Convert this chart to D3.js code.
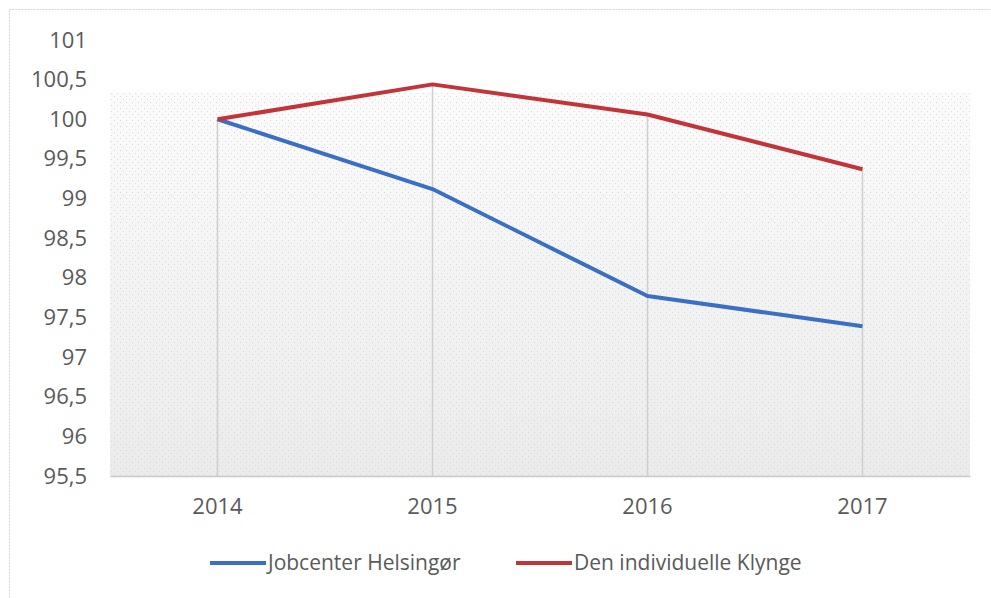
<!DOCTYPE html>
<html><head><meta charset="utf-8">
<script src="https://cdn.jsdelivr.net/npm/d3@7"></script>
<style>body{margin:0;background:#fff}svg{display:block}</style>
</head><body>
<svg id="c" width="991" height="598"></svg>
<script>
const years = ["2014","2015","2016","2017"];
const jobcenter = [100, 99.12, 97.77, 97.39];
const klynge = [100, 100.44, 100.06, 99.37];
const yTicks = [95.5, 96, 96.5, 97, 97.5, 98, 98.5, 99, 99.5, 100, 100.5, 101];
const seriesNames = ["Jobcenter Helsingør", "Den individuelle Klynge"];
const colors = ["#3a6fc4", "#c0343a"];

const svg = d3.select("#c");
const defs = svg.append("defs");
const grad = defs.append("linearGradient").attr("id","bg").attr("x1",0).attr("y1",0).attr("x2",0).attr("y2",1);
grad.append("stop").attr("offset","0%").attr("stop-color","#fbfbfb");
grad.append("stop").attr("offset","100%").attr("stop-color","#ebebeb");
const pat = defs.append("pattern").attr("id","dots").attr("width",6).attr("height",6).attr("patternUnits","userSpaceOnUse");
pat.append("rect").attr("x",0).attr("y",0).attr("width",1).attr("height",1).attr("fill","#d6d6d6");
pat.append("rect").attr("x",3).attr("y",3).attr("width",1).attr("height",1).attr("fill","#dcdcdc");

const font = "'Open Sans', sans-serif";
const txt = "#5a5a5a";

// outer border
svg.append("rect").attr("x",9.5).attr("y",9.5).attr("width",990).attr("height",600)
  .attr("fill","none").attr("stroke","#d4d4d4").attr("stroke-dasharray","2,1");

const x = d3.scaleBand().domain(years).range([110, 970]);
const y = d3.scaleLinear().domain([95.5, 101]).range([476, 40]);

// shaded plot background
const bgTop = 93;
svg.append("rect").attr("x",110).attr("y",bgTop).attr("width",860).attr("height",y(95.5)-bgTop).attr("fill","url(#bg)");
svg.append("rect").attr("x",110).attr("y",bgTop).attr("width",860).attr("height",y(95.5)-bgTop).attr("fill","url(#dots)");

// drop lines
svg.append("g").selectAll("line").data(years).join("line")
  .attr("x1",d=>x(d)+x.bandwidth()/2).attr("x2",d=>x(d)+x.bandwidth()/2)
  .attr("y1",(d,i)=>y(Math.max(jobcenter[i],klynge[i]))).attr("y2",y(95.5))
  .attr("stroke","#cfcfcf").attr("stroke-width",1.5);

// x axis
const xAxis = svg.append("g").attr("transform",`translate(0,${y(95.5)})`).call(d3.axisBottom(x).tickSize(0).tickPadding(22));
xAxis.select(".domain").attr("stroke","#c8c8c8").attr("stroke-width",1.5);
xAxis.selectAll("text").attr("font-family",font).attr("font-size",22).attr("fill",txt);

// y axis
const yAxis = svg.append("g").attr("transform","translate(87,0)")
  .call(d3.axisLeft(y).tickValues(yTicks).tickSize(0).tickPadding(0).tickFormat(d=>String(d).replace(".",",")));
yAxis.select(".domain").remove();
yAxis.selectAll("text").attr("font-family",font).attr("font-size",22).attr("fill",txt);

// lines
const line = d3.line().x((d,i)=>x(years[i])+x.bandwidth()/2).y(d=>y(d));
[jobcenter, klynge].forEach((s,k)=>{
  svg.append("path").datum(s).attr("d",line).attr("fill","none")
    .attr("stroke",colors[k]).attr("stroke-width",4).attr("stroke-linejoin","round");
});

// legend
const legX = [210, 516];
seriesNames.forEach((n,k)=>{
  const g = svg.append("g").attr("transform",`translate(${legX[k]},563)`);
  g.append("line").attr("x1",0).attr("x2",56).attr("y1",0).attr("y2",0).attr("stroke",colors[k]).attr("stroke-width",4);
  g.append("text").attr("x",58).attr("y",0).attr("dy","0.35em").text(n)
    .attr("font-family",font).attr("font-size",21).attr("fill",txt);
});
</script>
</body></html>
